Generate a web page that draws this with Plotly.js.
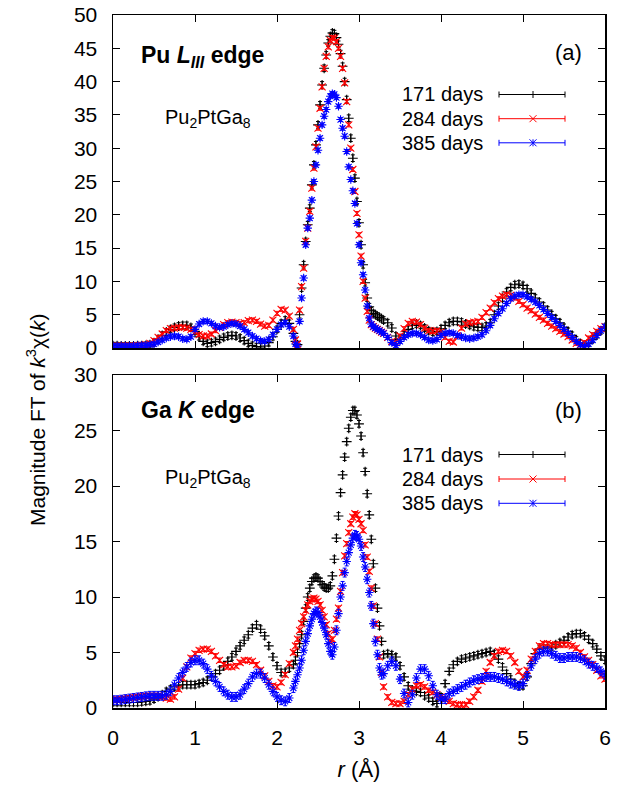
<!DOCTYPE html>
<html>
<head>
<meta charset="utf-8">
<script src="https://cdn.plot.ly/plotly-3.0.1.min.js"></script>
<style>html,body{margin:0;padding:0;background:#fff;}#chart{width:634px;height:789px;}</style>
</head>
<body>
<div id="chart"></div>
<script>
// sampling grid of r (Å): [start, count, step]
const rSegments = [[0, 44, 0.05], [2.2, 44, 0.025], [3.3, 55, 0.05]];
const r = [];
rSegments.forEach(([s, n, d]) => { for (let i = 0; i < n; i++) r.push(+(s + i * d).toFixed(3)); });

const seriesNames = ['171 days', '284 days', '385 days'];
const seriesColors = ['#000000', '#ff0000', '#0000ff'];

// ---- Panel (a): Pu L_III edge ----
const pu171 = [
 0.35,0.35,0.3,0.3,0.3,0.3,0.35,0.35,0.4,0.5,
 0.8,1.3,1.9,2.4,2.8,3.1,3.3,3.4,3.4,3.1,
 2.5,1.7,1.0,0.7,0.8,1.0,1.3,1.6,1.8,1.9,
 1.8,1.5,1.1,0.7,0.4,0.2,0.15,0.3,0.8,1.7,
 2.8,3.7,4.2,3.7,
 2.2,1.0,0.5,5.0,9.0,12.5,16.0,18.5,21.0,24.5,
 27.5,30.5,33.5,36.5,39.5,42.0,44.0,45.8,46.8,47.3,
 47.2,46.6,45.6,44.2,42.3,40.0,37.3,34.5,31.5,28.5,
 25.5,22.0,18.8,15.5,12.5,9.8,7.5,6.2,5.6,5.2,
 5.0,4.8,4.6,4.4,
 4.2,3.8,3.0,1.8,1.3,2.0,2.8,3.4,3.6,3.4,
 3.0,2.6,2.4,2.5,2.9,3.4,3.8,4.0,4.0,3.9,
 3.6,3.4,3.2,3.1,3.1,3.3,3.8,5.0,6.3,7.5,
 8.4,9.1,9.5,9.6,9.4,8.9,8.2,7.5,6.9,6.3,
 5.7,5.0,4.4,3.8,3.1,2.5,1.9,1.2,0.7,0.4,
 0.7,1.3,2.0,2.6,3.1];
const pu284 = [
 0.3,0.3,0.3,0.3,0.3,0.3,0.35,0.4,0.5,0.7,
 1.1,1.6,2.1,2.6,2.9,3.0,3.1,3.1,3.0,2.8,
 2.4,2.0,1.8,1.8,2.1,2.6,3.1,3.5,3.8,3.9,
 3.8,3.7,3.8,4.1,4.2,4.0,3.6,3.3,3.4,4.2,
 5.2,5.8,5.7,4.8,
 2.8,1.2,0.6,5.7,9.2,12.0,16.0,18.0,20.5,24.0,
 27.0,30.2,33.0,36.0,39.2,42.0,43.8,45.2,46.2,46.6,
 46.5,46.0,45.0,43.8,42.0,39.8,37.0,33.5,30.0,26.8,
 23.5,20.2,17.0,13.8,10.0,7.5,5.5,4.2,3.5,3.2,
 3.0,2.8,2.6,2.4,
 2.2,1.6,1.0,0.8,1.8,2.9,3.7,4.0,3.9,3.5,
 3.0,2.6,2.5,2.6,2.4,1.6,1.0,0.9,1.8,3.0,
 3.6,3.8,3.9,4.0,4.6,5.3,6.0,6.8,7.4,7.8,
 8.0,7.9,7.5,7.0,6.5,6.0,5.6,5.1,4.6,4.2,
 3.7,3.3,2.9,2.5,2.1,1.7,1.2,0.7,0.5,0.8,
 1.5,2.0,2.5,2.9,3.2];
const pu385 = [
 0.3,0.3,0.3,0.3,0.3,0.3,0.35,0.4,0.4,0.5,
 0.6,0.9,1.2,1.5,1.7,1.8,1.7,1.4,1.3,1.7,
 2.8,3.6,4.0,4.0,3.7,3.3,3.1,3.2,3.5,3.7,
 3.6,3.3,2.8,2.3,1.8,1.4,1.1,1.0,1.3,2.0,
 2.8,3.5,3.8,3.2,
 1.8,0.6,0.3,4.0,7.5,10.5,15.5,18.0,19.5,22.2,
 25.0,27.5,29.7,31.5,33.5,34.8,35.8,37.0,37.8,38.2,
 38.1,37.6,36.3,34.3,33.0,31.8,29.5,27.2,25.3,23.6,
 21.7,18.7,15.5,12.8,11.0,8.7,6.3,4.5,3.6,3.2,
 3.0,2.8,2.6,2.4,
 2.2,1.6,0.8,0.4,1.0,1.6,2.0,2.2,2.2,2.0,
 1.6,1.2,1.1,1.3,1.9,2.2,2.3,2.2,1.9,1.7,
 1.5,1.4,1.5,1.7,2.0,2.6,3.4,4.4,5.2,5.9,
 6.7,7.4,7.8,8.0,8.0,7.7,7.3,6.9,6.4,5.8,
 5.2,4.6,4.0,3.4,2.8,2.2,1.6,1.0,0.5,0.2,
 0.6,1.2,1.9,2.6,3.2];
const puErr = [0.5, 0.3, 0.3];

// ---- Panel (b): Ga K edge ----
const ga171 = [
 0.5,0.5,0.5,0.5,0.5,0.5,0.5,0.55,0.6,0.65,
 0.8,1.0,1.2,1.5,1.7,1.9,2.0,2.1,2.1,2.1,
 2.1,2.2,2.3,2.5,2.8,3.1,3.4,3.8,4.2,4.6,
 5.1,5.6,6.1,6.6,7.2,7.5,7.1,6.5,5.6,4.6,
 3.8,3.2,3.2,3.6,
 3.9,4.3,5.0,5.8,6.6,7.8,9.0,10.0,10.8,11.4,
 11.7,11.8,11.7,11.4,11.1,10.9,10.8,10.8,11.0,11.9,
 13.4,15.3,17.3,19.4,21.0,22.6,24.0,25.2,26.2,26.8,
 26.8,26.4,25.6,24.5,23.0,21.3,19.3,17.4,15.2,13.0,
 10.8,9.0,7.4,6.0,
 4.8,4.9,4.8,4.6,3.8,2.8,2.0,1.6,1.5,1.4,
 1.1,0.9,0.6,0.4,1.0,2.2,3.3,3.9,4.2,4.4,
 4.5,4.6,4.7,4.8,4.9,5.0,5.1,4.9,4.4,3.7,
 3.1,2.6,2.2,2.0,2.0,2.8,4.0,4.9,5.3,5.4,
 5.4,5.5,5.7,5.9,6.1,6.4,6.6,6.7,6.7,6.5,
 6.2,5.8,5.3,4.7,4.3];
const ga284 = [
 0.75,0.75,0.8,0.85,0.9,0.95,1.0,1.05,1.1,1.1,
 1.1,1.1,1.0,0.9,0.8,1.0,1.7,2.7,3.7,4.5,
 4.9,5.2,5.3,5.3,5.1,4.7,4.3,3.9,3.7,3.7,
 3.8,4.1,4.3,4.3,4.2,3.9,3.4,2.9,2.4,2.0,
 1.9,2.3,3.0,4.0,
 5.0,5.6,6.2,7.0,7.6,8.2,8.8,9.3,9.6,9.8,
 9.9,9.8,9.6,9.3,8.8,8.2,7.5,6.7,6.0,6.2,
 7.0,8.0,9.0,10.5,12.2,13.7,14.8,15.8,16.6,17.2,
 17.5,17.4,17.0,16.6,16.0,14.7,13.6,12.3,10.8,9.2,
 7.6,6.2,4.6,3.2,
 1.9,1.0,0.5,0.4,0.4,0.6,1.2,1.7,2.0,2.1,
 1.9,1.6,1.4,1.2,1.0,0.8,0.6,0.4,0.3,0.3,
 0.3,0.6,1.0,1.6,2.4,3.3,4.1,4.7,5.1,5.2,
 5.1,4.7,4.1,3.3,2.8,3.4,4.4,5.1,5.6,5.8,
 5.8,5.7,5.7,5.7,5.7,5.7,5.6,5.4,5.0,4.6,
 4.3,3.9,3.4,2.9,2.6];
const ga385 = [
 0.7,0.7,0.75,0.8,0.85,0.9,0.95,1.0,1.05,1.1,
 1.1,1.1,1.1,1.2,1.5,2.1,2.7,3.2,3.7,4.1,
 4.3,4.3,4.0,3.5,2.9,2.4,1.9,1.5,1.2,1.0,
 1.0,1.2,1.7,2.2,2.8,3.1,3.1,2.7,2.1,1.5,
 1.0,0.7,0.6,0.9,
 1.8,2.4,3.0,3.6,4.3,5.2,6.0,6.7,7.4,8.0,
 8.5,8.7,8.6,8.2,7.7,7.2,6.6,5.8,5.1,4.8,
 5.5,7.0,8.5,10.0,11.0,12.2,13.2,14.0,14.7,15.3,
 15.6,15.5,15.2,14.6,13.6,12.7,11.6,10.4,9.2,7.6,
 6.0,4.8,3.6,3.0,
 3.1,3.8,4.2,3.8,2.6,1.3,0.5,1.2,2.7,3.5,
 3.5,2.9,2.0,1.2,0.8,0.8,1.3,1.5,1.7,1.9,
 2.1,2.3,2.5,2.6,2.7,2.8,2.8,2.8,2.7,2.6,
 2.4,2.2,2.1,2.0,2.2,2.9,3.8,4.4,4.9,5.1,
 5.1,4.9,4.7,4.5,4.5,4.6,4.6,4.6,4.5,4.3,
 4.0,3.8,3.6,3.3,3.0];
const gaErr = [0.3, 0.2, 0.4];

const yTicksTop = [0, 5, 10, 15, 20, 25, 30, 35, 40, 45, 50];
const yTicksBot = [0, 5, 10, 15, 20, 25, 30];
const xTicks = [0, 1, 2, 3, 4, 5, 6];

[pu171, pu284, pu385, ga171, ga284, ga385].forEach((a, i) => {
  if (a.length !== r.length) throw new Error('series ' + i + ' length ' + a.length + ' vs ' + r.length);
});

// ---- figure geometry (pixels) ----
const W = 634, H = 789;
const M = {l: 113, r: 29, t: 15, b: 81};
const PW = W - M.l - M.r, PH = H - M.t - M.b;
const px = x => (x - M.l) / PW;
const py = y => (H - M.b - y) / PH;

const symbols = ['cross-thin-open', 'x-thin-open', 'asterisk-open'];
function makeTraces(series, errs, xa, ya) {
  return series.map((ys, i) => ({
    type: 'scatter', mode: 'markers', x: r, y: ys, xaxis: xa, yaxis: ya,
    name: seriesNames[i], showlegend: false,
    marker: {symbol: symbols[i], size: 7, color: seriesColors[i], line: {color: seriesColors[i], width: 1.1}},
    error_y: {type: 'constant', value: errs[i], color: seriesColors[i], thickness: 1, width: 2}
  }));
}
const traces = [...makeTraces([pu171, pu284, pu385], puErr, 'x', 'y'),
                ...makeTraces([ga171, ga284, ga385], gaErr, 'x2', 'y2')];

const FONT = 'Liberation Sans, Arial, Helvetica, sans-serif';
const axisCommon = {
  showline: true, linecolor: '#000', linewidth: 1.5, mirror: 'allticks',
  ticks: 'inside', ticklen: 7, tickwidth: 1, tickcolor: '#000',
  showgrid: false, zeroline: false, tickfont: {family: FONT, size: 21, color: '#000'}
};
const topFrac = py(348), botFrac = py(375);

// ---- key (gnuplot style: text then sample) ----
const shapes = [], annotations = [];
function keyRows(rowsY) {
  rowsY.forEach((yy, i) => {
    const c = seriesColors[i];
    const L = (x0, y0, x1, y1) => shapes.push({type: 'line', xref: 'paper', yref: 'paper',
      x0: px(x0), y0: py(y0), x1: px(x1), y1: py(y1), line: {color: c, width: 1}});
    L(499, yy, 565, yy); L(499, yy - 3, 499, yy + 3); L(565, yy - 3, 565, yy + 3);
    if (i === 0 || i === 2) L(533, yy - 3.5, 533, yy + 3.5);
    if (i === 1 || i === 2) { L(529.5, yy - 3.5, 536.5, yy + 3.5); L(529.5, yy + 3.5, 536.5, yy - 3.5); }
    annotations.push({xref: 'paper', yref: 'paper', x: px(485), y: py(yy), xanchor: 'right', yanchor: 'middle',
      text: seriesNames[i], showarrow: false, font: {family: FONT, size: 20, color: '#000'}});
  });
}
keyRows([94.5, 118.7, 142.8]);
keyRows([454.5, 479, 503.3]);

const txt = (x, y, text, size, xanchor) => annotations.push({xref: 'paper', yref: 'paper', x: px(x), y: py(y),
  xanchor: xanchor, yanchor: 'middle', text: text, showarrow: false, font: {family: FONT, size: size, color: '#000'}});
txt(139, 57, '<b>Pu <i>L</i><sub><i>III</i></sub> edge</b>', 23, 'left');
txt(163, 118, 'Pu<sub>2</sub>PtGa<sub>8</sub>', 20, 'left');
txt(584, 52, '(a)', 22, 'right');
txt(139, 410, '<b>Ga <i>K</i> edge</b>', 23, 'left');
txt(163, 478, 'Pu<sub>2</sub>PtGa<sub>8</sub>', 20, 'left');
txt(584, 410, '(b)', 22, 'right');
annotations.push({xref: 'paper', yref: 'paper', x: px(36), y: py(420), xanchor: 'center', yanchor: 'middle',
  textangle: -90, text: 'Magnitude FT of <i>k</i><sup>3</sup>χ(<i>k</i>)', showarrow: false,
  font: {family: FONT, size: 21, color: '#000'}});

const layout = {
  width: W, height: H, margin: M, paper_bgcolor: '#fff', plot_bgcolor: '#fff', showlegend: false,
  font: {family: FONT, size: 21, color: '#000'},
  xaxis: {...axisCommon, domain: [0, 1], range: [0, 6], anchor: 'y', tickvals: xTicks, showticklabels: false},
  yaxis: {...axisCommon, domain: [topFrac, 1], range: [0, 50], anchor: 'x', tickvals: yTicksTop, ticklabelstandoff: 10},
  xaxis2: {...axisCommon, domain: [0, 1], range: [0, 6], anchor: 'y2', tickvals: xTicks, ticklabelstandoff: 10,
    title: {text: '<i>r</i> (Å)', font: {family: FONT, size: 22, color: '#000'}, standoff: 14}},
  yaxis2: {...axisCommon, domain: [0, botFrac], range: [0, 30], anchor: 'x2', tickvals: yTicksBot, ticklabelstandoff: 10},
  shapes: shapes, annotations: annotations
};
Plotly.newPlot('chart', traces, layout, {staticPlot: true, displayModeBar: false});
</script>
</body>
</html>
